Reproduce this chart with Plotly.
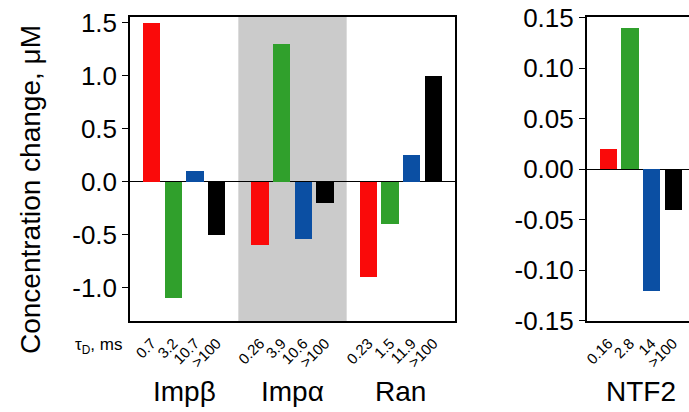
import plotly.graph_objects as go

# ---- data ----
left_groups = ["Impβ", "Impα", "Ran"]
left_tau_labels = [["0.7", "3.2", "10.7", ">100"],
                   ["0.26", "3.9", "10.6", ">100"],
                   ["0.23", "1.5", "11.9", ">100"]]
left_values = [[1.5, -1.1, 0.1, -0.5],
               [-0.6, 1.3, -0.54, -0.2],
               [-0.9, -0.4, 0.25, 1.0]]

right_groups = ["NTF2"]
right_tau_labels = [["0.16", "2.8", "14", ">100"]]
right_values = [[0.02, 0.14, -0.12, -0.04]]

bar_colors = ["#fa0a0a", "#30a02c", "#0b4fa3", "#000000"]

W, H = 689, 412
FONT = "Liberation Sans, Arial, sans-serif"

fig = go.Figure()

def add_panel(groups, labels, values, xa, ya):
    xs, ys, cols, txt = [], [], [], []
    for g, (lab, vals) in enumerate(zip(labels, values)):
        for i, v in enumerate(vals):
            xs.append(g * 5 + i + 1)
            ys.append(v)
            cols.append(bar_colors[i])
            txt.append(lab[i])
    fig.add_trace(go.Bar(x=xs, y=ys, marker=dict(color=cols, line=dict(width=0)),
                         width=0.8, xaxis=xa, yaxis=ya, showlegend=False))
    return xs, txt

lx, lt = add_panel(left_groups, left_tau_labels, left_values, "x", "y")
rx, rt = add_panel(right_groups, right_tau_labels, right_values, "x2", "y2")

ydom = [1 - 321 / H, 1 - 17 / H]
tickfont = dict(family=FONT, size=26, color="black")
xtickfont = dict(family=FONT, size=15, color="black")

fig.update_layout(
    template="none",
    width=W, height=H,
    margin=dict(l=0, r=0, t=0, b=0),
    paper_bgcolor="white", plot_bgcolor="white",
    bargap=0,
    xaxis=dict(domain=[130 / W, 455 / W], range=[0, 15], tickvals=lx, ticktext=lt,
               tickangle=-45, tickfont=xtickfont, showgrid=False, zeroline=False,
               showline=True, linecolor="black", linewidth=1.5, mirror=True,
               ticks="outside", ticklen=6, tickcolor="rgba(0,0,0,0)", automargin=False),
    yaxis=dict(domain=ydom, range=[-1.315, 1.555], tickvals=[-1.0, -0.5, 0.0, 0.5, 1.0, 1.5],
               ticktext=["-1.0", "-0.5", "0.0", "0.5", "1.0", "1.5"], tickfont=tickfont,
               showgrid=False, zeroline=True, zerolinecolor="black", zerolinewidth=1.2,
               showline=True, linecolor="black", linewidth=1.5, mirror=True,
               ticks="outside", ticklen=6, tickcolor="black", tickwidth=1, automargin=False),
    xaxis2=dict(domain=[586.7 / W, 1.0], range=[0, 4.75], tickvals=rx, ticktext=rt,
                tickangle=-45, tickfont=xtickfont, showgrid=False, zeroline=False,
                showline=True, linecolor="black", linewidth=1.5, mirror=True,
                ticks="outside", ticklen=6, tickcolor="rgba(0,0,0,0)", anchor="y2",
                automargin=False),
    yaxis2=dict(domain=ydom, range=[-0.1502, 0.1508],
                tickvals=[-0.15, -0.10, -0.05, 0.0, 0.05, 0.10, 0.15],
                ticktext=["-0.15", "-0.10", "-0.05", "0.00", "0.05", "0.10", "0.15"],
                tickfont=tickfont, showgrid=False, zeroline=True, zerolinecolor="black",
                zerolinewidth=1.2, showline=True, linecolor="black", linewidth=1.5,
                mirror=False, ticks="outside", ticklen=6, tickcolor="black", tickwidth=1,
                anchor="x2", automargin=False),
)

# gray band behind Impα
fig.add_shape(type="rect", xref="x", yref="y domain", x0=5, x1=10, y0=0, y1=1,
              fillcolor="#cbcbcb", line=dict(width=0), layer="below")

# y-axis title
fig.add_annotation(text="Concentration change, μM", xref="paper", yref="paper",
                   x=30 / W, y=1 - 190 / H, textangle=-90, showarrow=False,
                   font=dict(family=FONT, size=28, color="black"),
                   xanchor="center", yanchor="middle")

# tau label
fig.add_annotation(text="τ<sub>D</sub>, ms", xref="paper", yref="paper",
                   x=124 / W, y=1 - 346 / H, showarrow=False,
                   font=dict(family=FONT, size=17, color="black"),
                   xanchor="right", yanchor="middle")

# group labels
for g, name in enumerate(left_groups):
    fig.add_annotation(text=name, xref="x", yref="paper", x=g * 5 + 2.5,
                       y=1 - 391 / H, showarrow=False,
                       font=dict(family=FONT, size=28, color="black"),
                       xanchor="center", yanchor="middle")
for g, name in enumerate(right_groups):
    fig.add_annotation(text=name, xref="x2", yref="paper", x=g * 5 + 2.5,
                       y=1 - 391 / H, showarrow=False,
                       font=dict(family=FONT, size=28, color="black"),
                       xanchor="center", yanchor="middle")

fig.write_html("out.html",
               config={"displayModeBar": False},
               post_script="document.body.style.margin='0';document.body.style.overflow='hidden';")
